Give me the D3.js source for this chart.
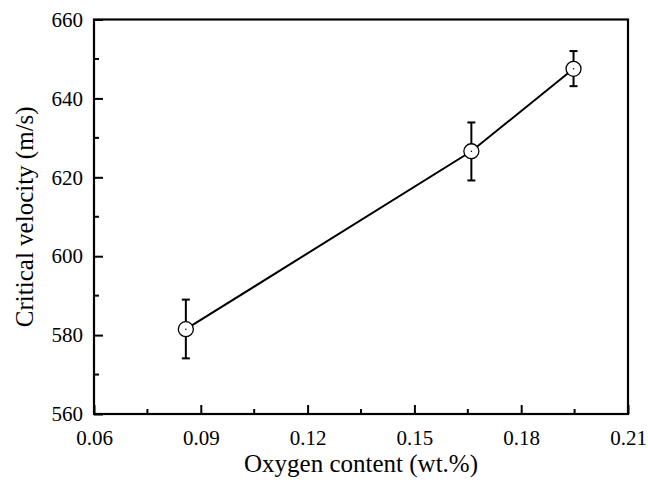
<!DOCTYPE html>
<html>
<head>
<meta charset="utf-8">
<script src="https://cdn.jsdelivr.net/npm/d3@7"></script>
<style>
  body { margin: 0; background: #fff; }
  svg text { font-family: "Liberation Serif", "Times New Roman", serif; fill: #000; }
</style>
</head>
<body>
<div id="chart"></div>
<script>
// data
const oxygen = [0.0858, 0.166, 0.1947];
const velocity = [581.5, 626.6, 647.5];
const errUpper = [589.0, 633.9, 652.0];
const errLower = [574.1, 619.2, 643.1];
const xTicks = [0.06, 0.09, 0.12, 0.15, 0.18, 0.21];
const yTicks = [560, 580, 600, 620, 640, 660];

const W = 648, H = 485;
const margin = { top: 19.5, right: 20, bottom: 71, left: 94 };
const serif = "Liberation Serif, Times New Roman, serif";

const svg = d3.select("#chart").append("svg")
    .attr("width", W)
    .attr("height", H);

const x = d3.scaleLinear().domain([0.06, 0.21]).range([margin.left, 628]);
const y = d3.scaleLinear().domain([560, 660]).range([414, margin.top]);

const pts = oxygen.map((d, i) => ({ x: d, y: velocity[i], hi: errUpper[i], lo: errLower[i] }));

// minor ticks (inward)
const xMinor = d3.range(0.075, 0.21, 0.03);
const yMinor = d3.range(570, 660, 20);

svg.append("g").selectAll("line")
    .data(xMinor).enter().append("line")
    .attr("x1", d => x(d)).attr("x2", d => x(d))
    .attr("y1", 414).attr("y2", 414 - 5)
    .attr("stroke", "#000").attr("stroke-width", 2);

svg.append("g").selectAll("line")
    .data(yMinor).enter().append("line")
    .attr("x1", margin.left).attr("x2", margin.left + 5)
    .attr("y1", d => y(d)).attr("y2", d => y(d))
    .attr("stroke", "#000").attr("stroke-width", 2);

// axes with inward ticks
const xAxis = svg.append("g")
    .attr("transform", "translate(0,414)")
    .call(d3.axisBottom(x).tickValues(xTicks).tickFormat(d3.format(".2f"))
        .tickSizeInner(-9).tickSizeOuter(0).tickPadding(16))
    .attr("font-family", serif).attr("font-size", 21);
xAxis.select(".domain").remove();
xAxis.selectAll("line").attr("stroke-width", 2);

const yAxis = svg.append("g")
    .attr("transform", `translate(${margin.left},0)`)
    .call(d3.axisLeft(y).tickValues(yTicks)
        .tickSizeInner(-9).tickSizeOuter(0).tickPadding(11))
    .attr("font-family", serif).attr("font-size", 21);
yAxis.select(".domain").remove();
yAxis.selectAll("line").attr("stroke-width", 2);

// frame
svg.append("rect")
    .attr("x", margin.left).attr("y", margin.top)
    .attr("width", 628 - margin.left).attr("height", 414 - margin.top)
    .attr("fill", "none").attr("stroke", "#000").attr("stroke-width", 2.2);

// connecting line
svg.append("path")
    .datum(pts)
    .attr("d", d3.line().x(d => x(d.x)).y(d => y(d.y)))
    .attr("fill", "none").attr("stroke", "#000").attr("stroke-width", 2);

// error bars
const eb = svg.append("g").selectAll("g").data(pts).enter().append("g");
eb.append("line")
    .attr("x1", d => x(d.x)).attr("x2", d => x(d.x))
    .attr("y1", d => y(d.hi)).attr("y2", d => y(d.lo))
    .attr("stroke", "#000").attr("stroke-width", 2);
eb.selectAll(".cap").data(d => [[d.x, d.hi], [d.x, d.lo]]).enter().append("line")
    .attr("x1", d => x(d[0]) - 4).attr("x2", d => x(d[0]) + 4)
    .attr("y1", d => y(d[1])).attr("y2", d => y(d[1]))
    .attr("stroke", "#000").attr("stroke-width", 2);

// markers
svg.append("g").selectAll("circle").data(pts).enter().append("circle")
    .attr("cx", d => x(d.x)).attr("cy", d => y(d.y)).attr("r", 7.5)
    .attr("fill", "#fff").attr("stroke", "#000").attr("stroke-width", 1.3);
svg.append("g").selectAll("circle").data(pts).enter().append("circle")
    .attr("cx", d => x(d.x)).attr("cy", d => y(d.y)).attr("r", 0.8)
    .attr("fill", "#000");

// axis titles
svg.append("text")
    .attr("x", (margin.left + 628) / 2).attr("y", 472)
    .attr("text-anchor", "middle").attr("font-size", 25)
    .text("Oxygen content (wt.%)");

svg.append("text")
    .attr("transform", `translate(33,${(414 + margin.top) / 2}) rotate(-90)`)
    .attr("text-anchor", "middle").attr("font-size", 25)
    .text("Critical velocity (m/s)");
</script>
</body>
</html>
